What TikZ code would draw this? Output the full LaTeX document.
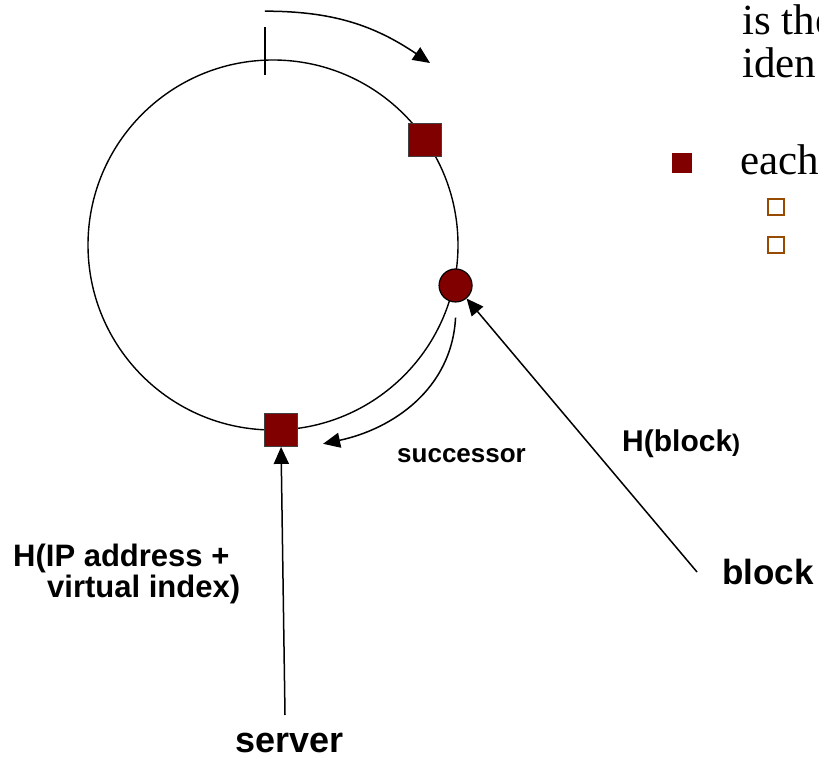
\documentclass[tikz,border=0pt]{standalone}
\usepackage{fontspec}
\setmainfont{Liberation Serif}
\setsansfont{Liberation Sans}
\usetikzlibrary{arrows.meta,calc,positioning}
\definecolor{ringred}{RGB}{128,0,0}
\definecolor{subbrown}{RGB}{150,75,0}

\begin{document}
\begin{tikzpicture}[x=1pt,y=1pt,
  srv/.style={rectangle,draw=black!75,fill=ringred,line width=1.2pt,minimum size=33pt,inner sep=0pt},
  blk/.style={circle,draw=black,fill=ringred,line width=1.2pt,minimum size=33pt,inner sep=0pt},
  arr/.style={line width=1.5pt,-{Triangle[length=17pt,width=15pt]}},
  sub/.style={draw=subbrown,line width=2.2pt,minimum size=16pt,inner sep=0pt},
  lbl/.style={inner sep=0pt,anchor=base west}]
\useasboundingbox (0,0) rectangle (819,763);
\clip (0,0) rectangle (819,763);
% the ring
\coordinate (c_r) at (273,518);
\draw[line width=1.4pt] (c_r) circle (185);
\coordinate (q_t) at ($(c_r)+(92.5:185)$);
\draw[line width=1.4pt] ([yshift=-15pt]q_t) -- ([yshift=33pt]q_t);
\node[srv] (q_s1) at ($(c_r)+(34.6:185)$) {};
\node[blk] (q_h) at ($(c_r)+(-12.5:187)$) {};
\node[srv] (q_s0) at ($(c_r)+(-87.5:185)$) {};
% direction of the ring
\coordinate (q_a) at ([yshift=49pt]q_t);
\coordinate (q_b) at (430,700);
\draw[arr] (q_a) to[out=0,in=146] (q_b);
% successor
\draw[arr] ([yshift=-15pt]q_h.south) to[out=-93,in=12] ([shift={(42pt,-14pt)}]q_s0.center);
\node[lbl,font=\fontsize{26}{26}\sffamily\bfseries] (l_succ) at (397,300) {successor};
% hashes
\coordinate (q_k) at (697,191);
\draw[arr] (q_k) -- (q_h);
\node[lbl,font=\fontsize{30}{30}\sffamily\bfseries] (l_hb) at (622,311) {H(block{\fontsize{24}{24}\selectfont)}};
\node[lbl,font=\fontsize{35}{35}\sffamily\bfseries] (l_blk) at (722,178) {block};
\coordinate (q_v) at (285,48);
\draw[arr] (q_v) -- (q_s0.south);
\node[lbl,font=\fontsize{36}{36}\sffamily\bfseries] (l_srv) at (235,11) {server};
\node[lbl,font=\fontsize{31}{31}\sffamily\bfseries] (l_ip1) at (13,196) {H(IP address +};
\node[lbl,font=\fontsize{31}{31}\sffamily\bfseries] (l_ip2) at (47,165) {virtual index)};
% slide text
\node[lbl,font=\fontsize{43}{43}\selectfont] (t_1) at (742,728) {is the};
\node[lbl,font=\fontsize{43}{43}\selectfont] (t_2) at (742,685) {iden};
\node[fill=ringred,minimum size=20pt,inner sep=0pt] (b_0) at (682,600) {};
\node[lbl,font=\fontsize{43}{43}\selectfont] (t_3) at (740,588) {each};
\node[sub] (b_1) at (776,556) {};
\node[sub] (b_2) at (776,518) {};
\end{tikzpicture}
\end{document}
